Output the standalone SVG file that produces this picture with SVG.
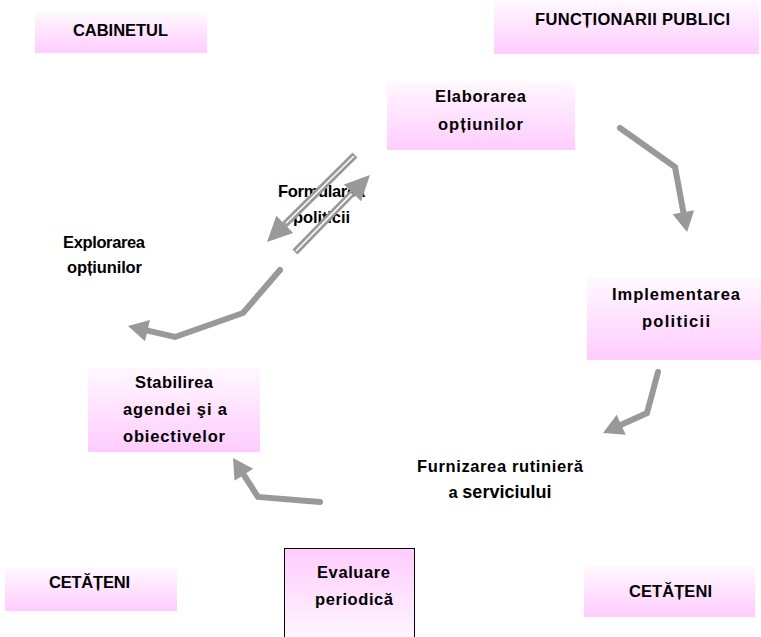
<svg xmlns="http://www.w3.org/2000/svg" width="761" height="637" viewBox="0 0 761 637">
<style>
text{font-family:"Liberation Sans",Arial,sans-serif;font-weight:bold;font-size:16.5px;fill:#000;text-anchor:middle}
.box{stroke:none}
.conn{fill:none;stroke:#999;stroke-width:6;stroke-linejoin:miter}
.dbl{fill:none;stroke:#999;stroke-width:7}
.dbli{fill:none;stroke:#fff;stroke-width:1.6}
</style>
<defs>
<linearGradient id="gDown" x1="0" y1="0" x2="0" y2="1">
<stop offset="0" stop-color="#fff8ff"/>
<stop offset="1" stop-color="#ffccff"/>
</linearGradient>
<linearGradient id="gUp" x1="0" y1="0" x2="0" y2="1">
<stop offset="0" stop-color="#ffccff"/>
<stop offset="1" stop-color="#fff8ff"/>
</linearGradient>
<marker id="ah" markerUnits="userSpaceOnUse" markerWidth="24" markerHeight="24" refX="0" refY="11" orient="auto" overflow="visible">
<path d="M0,0 L20,11 L0,22 z" fill="#999"/>
</marker>
<marker id="ah2" markerUnits="userSpaceOnUse" markerWidth="28" markerHeight="28" refX="0" refY="12" orient="auto" overflow="visible">
<path d="M0,0 L25,12 L0,24 z" fill="#999"/>
</marker>
</defs>
<g id="cabinetul">
<rect class="box" x="35" y="13" width="172" height="40" fill="url(#gDown)"/>
<text x="120.5" y="35.5" textLength="95">CABINETUL</text>
</g>
<g id="functionarii">
<rect class="box" x="494" y="1" width="265" height="53" fill="url(#gDown)"/>
<text x="632.5" y="25" textLength="195">FUNCȚIONARII PUBLICI</text>
</g>
<g id="elaborarea">
<rect class="box" x="387" y="82" width="188" height="68" fill="url(#gDown)"/>
<text x="480.5" y="102" textLength="91">Elaborarea</text>
<text x="480.5" y="130" textLength="85">opțiunilor</text>
</g>
<g id="implementarea">
<rect class="box" x="587" y="278" width="174" height="82" fill="url(#gDown)"/>
<text x="676" y="300" textLength="128">Implementarea</text>
<text x="676" y="327" textLength="68">politicii</text>
</g>
<g id="furnizarea">
<text x="500" y="472" textLength="166">Furnizarea rutinieră</text>
<text x="500" y="498"><tspan>a </tspan><tspan font-size="18">serviciului</tspan></text>
</g>
<g id="stabilirea">
<rect class="box" x="88" y="368" width="172" height="84" fill="url(#gDown)"/>
<text x="174" y="388" textLength="78">Stabilirea</text>
<text x="175" y="415" textLength="104">agendei şi a</text>
<text x="174" y="442" textLength="102">obiectivelor</text>
</g>
<g id="explorarea">
<text x="104" y="248" textLength="82">Explorarea</text>
<text x="104.5" y="273" textLength="75">opțiunilor</text>
</g>
<g id="formularea">
<text x="321.5" y="197" textLength="87">Formularea</text>
<text x="321.5" y="223" textLength="57">politicii</text>
</g>
<g id="evaluare">
<rect x="284.5" y="548.5" width="130" height="95" fill="url(#gUp)" stroke="#000" stroke-width="1"/>
<text x="353.5" y="578" textLength="73">Evaluare</text>
<text x="354" y="605" textLength="78">periodică</text>
</g>
<g id="cetateni-stanga">
<rect class="box" x="5" y="568" width="172" height="43" fill="url(#gDown)"/>
<text x="89.5" y="588" textLength="81">CETĂȚENI</text>
</g>
<g id="cetateni-dreapta">
<rect class="box" x="584" y="567" width="171" height="50" fill="url(#gDown)"/>
<text x="670.5" y="597" textLength="83">CETĂȚENI</text>
</g>
<g id="connectors">
<path class="conn" d="M620,128 L675,167 L683.4,212.3" stroke-linecap="round" marker-end="url(#ah)"/>
<path class="conn" d="M658,372 L647,413 L621.2,424.7" stroke-linecap="round" marker-end="url(#ah)"/>
<path class="conn" d="M320,502 L258,497 L243.8,474.8" stroke-linecap="round" marker-end="url(#ah)"/>
<path class="conn" d="M280,270 L243,313 L175,337 L147.5,330.6" stroke-linecap="round" marker-end="url(#ah)"/>
<path class="dbl" d="M355,155 L284.8,224.4" marker-end="url(#ah2)"/>
<path class="dbli" d="M354,156 L286,223.2"/>
<path class="dbl" d="M295,252 L352.5,192.9" marker-end="url(#ah2)"/>
<path class="dbli" d="M296,251 L351.5,193.9"/>
</g>
</svg>
